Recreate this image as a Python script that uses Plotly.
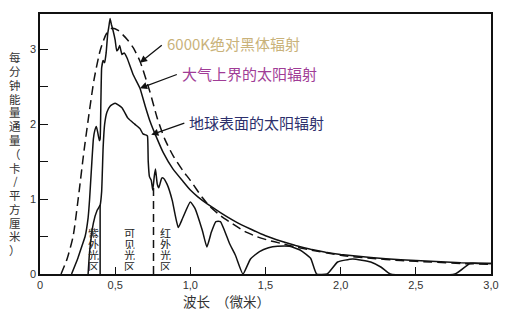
import plotly.graph_objects as go

# Wavelength grid (micrometres) and spectral energy flux for each curve
bb_x = [0.14, 0.18, 0.22, 0.26, 0.29, 0.32, 0.36, 0.40, 0.44, 0.48, 0.52, 0.58, 0.62,
        0.665, 0.73, 0.78, 0.83, 0.885, 0.95, 1.0, 1.08, 1.13, 1.2, 1.28, 1.36, 1.44,
        1.52, 1.6, 1.7, 1.8, 2.0, 2.2, 2.4, 2.6, 2.8, 3.0]
bb_y = [0.0, 0.2, 0.5, 1.1, 1.6, 2.05, 2.6, 2.98, 3.2, 3.28, 3.25, 3.13, 3.02,
        2.84, 2.44, 2.08, 1.8, 1.58, 1.38, 1.25, 1.02, 0.9, 0.78, 0.67, 0.57, 0.5,
        0.45, 0.41, 0.36, 0.32, 0.25, 0.21, 0.18, 0.16, 0.14, 0.13]

toa_x = [0.21, 0.25, 0.28, 0.30, 0.32, 0.33, 0.345, 0.355, 0.365, 0.375, 0.385, 0.395,
         0.40, 0.405, 0.41, 0.42, 0.43, 0.44, 0.45, 0.458, 0.466, 0.475, 0.486, 0.50,
         0.51, 0.52, 0.53, 0.545, 0.56, 0.58, 0.62, 0.665, 0.70, 0.73, 0.78, 0.82,
         0.885, 0.95, 1.0, 1.05, 1.11, 1.2, 1.3, 1.4, 1.5, 1.6, 1.7, 1.8, 1.9, 2.0,
         2.2, 2.4, 2.6, 2.8, 3.0]
toa_y = [0.0, 0.2, 0.38, 0.5, 0.75, 1.0, 1.5, 1.8, 1.92, 1.97, 1.88, 1.78,
         1.8, 2.3, 2.75, 2.85, 2.82, 2.95, 3.2, 3.3, 3.41, 3.33, 3.25, 3.12,
         2.98, 3.0, 3.05, 2.93, 2.95, 2.88, 2.66, 2.48, 2.24, 2.05, 1.8, 1.62,
         1.4, 1.24, 1.12, 1.03, 0.94, 0.82, 0.7, 0.6, 0.51, 0.44, 0.38, 0.33, 0.29, 0.26,
         0.22, 0.19, 0.17, 0.15, 0.14]

sfc_x = [0.32, 0.33, 0.355, 0.38, 0.40, 0.41, 0.42, 0.43, 0.445, 0.466, 0.50, 0.545,
         0.585, 0.63, 0.665, 0.685, 0.71, 0.715, 0.72, 0.728, 0.74, 0.75, 0.76, 0.768,
         0.78, 0.79, 0.81, 0.82, 0.845, 0.88, 0.90, 0.92, 0.95, 1.0, 1.03, 1.08, 1.11,
         1.14, 1.17, 1.2, 1.26, 1.30, 1.35, 1.40, 1.46, 1.52, 1.58, 1.66, 1.73, 1.8,
         1.84, 1.91, 1.98, 2.08, 2.2, 2.27, 2.33, 2.76, 2.86, 2.93, 3.0]
sfc_y = [0.0, 0.3, 0.68, 0.85, 0.92, 1.1, 1.69, 2.0, 2.16, 2.24, 2.28, 2.22,
         2.08, 2.0, 1.94, 1.87, 1.85, 1.84, 1.5, 1.3, 1.25, 1.12, 1.3, 1.4,
         1.2, 1.15, 1.28, 1.28, 1.2, 0.98, 0.78, 0.62, 0.75, 0.96, 0.88, 0.58, 0.36,
         0.56, 0.7, 0.7, 0.41, 0.25, 0.0, 0.2, 0.3, 0.35, 0.37, 0.37, 0.32, 0.21,
         0.0, 0.0, 0.16, 0.2, 0.16, 0.09, 0.0, 0.0, 0.14, 0.14, 0.14]

# Spectral region boundaries: wavelength, height, dash style
bound_x = [0.40, 0.755]
bound_top = [0.92, 1.15]
bound_dash = ["solid", "8px,5px"]

x_ticks = [0, 0.5, 1.0, 1.5, 2.0, 2.5, 3.0]
x_ticktext = ["0", "0,5", "1,0", "1,5", "2,0", "2,5", "3,0"]
y_ticks = [0, 0.5, 1, 1.5, 2, 2.5, 3]
y_ticktext = ["0", "", "1", "", "2", "", "3"]

region_names = ["紫外光区", "可见光区", "红外光区"]
region_x = [0.355, 0.595, 0.835]

y_title = "每分钟能量通量（卡/平方厘米）"
x_title = "波长  （微米）"

curve_labels = ["6000K绝对黑体辐射", "大气上界的太阳辐射", "地球表面的太阳辐射"]
label_colors = ["#c9b27a", "#a03c96", "#2c2f6c"]
label_pos = [(0.83, 3.07), (0.93, 2.67), (0.98, 2.02)]
arrow_tip = [(0.665, 2.82), (0.665, 2.48), (0.74, 1.86)]

W, H = 522, 325
L, R, T, B = 40, 31, 12, 51
YMAX = 3.47

fig = go.Figure()
fig.add_trace(go.Scatter(x=bb_x, y=bb_y, mode="lines",
                         line=dict(color="#111", width=1.5, dash="9px,5px", shape="spline", smoothing=0.6)))
fig.add_trace(go.Scatter(x=toa_x, y=toa_y, mode="lines",
                         line=dict(color="#111", width=1.5, shape="spline", smoothing=0.3)))
fig.add_trace(go.Scatter(x=sfc_x, y=sfc_y, mode="lines",
                         line=dict(color="#111", width=1.5, shape="spline", smoothing=0.45)))
for bx, bt, bd in zip(bound_x, bound_top, bound_dash):
    fig.add_trace(go.Scatter(x=[bx, bx], y=[0, bt], mode="lines",
                             line=dict(color="#111", width=1.5, dash=bd)))

cjk = "Noto Sans CJK SC"
plot_w = W - L - R
plot_h = H - T - B
ann = []

# vertical axis title, one upright character per row
for i, ch in enumerate(y_title):
    py = 55 + i * 13.9
    ann.append(dict(xref="paper", yref="paper", x=(15 - L) / plot_w, y=(H - B - py) / plot_h,
                    text=ch, showarrow=False, font=dict(family=cjk, size=11.5, color="#333"),
                    xanchor="center", yanchor="middle", height=13))

# region names, stacked vertically
for name, rx in zip(region_names, region_x):
    for i, ch in enumerate(name):
        py = 232 + i * 11.3
        ann.append(dict(xref="x", yref="paper", x=rx, y=(H - B - py) / plot_h, text=ch,
                        showarrow=False, font=dict(family=cjk, size=11, color="#222"),
                        xanchor="center", yanchor="middle", height=11))

# curve names with pointer arrows
for txt, col, (lx, ly), (tx, ty) in zip(curve_labels, label_colors, label_pos, arrow_tip):
    ann.append(dict(x=lx, y=ly, text=txt, showarrow=False, xanchor="left", yanchor="middle",
                    font=dict(family=cjk, size=15, color=col)))
    ann.append(dict(x=tx, y=ty, ax=lx - 0.01, ay=ly, axref="x", ayref="y", text="",
                    showarrow=True, arrowhead=2, arrowsize=1.1, arrowwidth=1.3, arrowcolor="#111"))

ann.append(dict(xref="paper", yref="paper", x=(226 - L) / plot_w, y=(H - B - 301) / plot_h,
                text=x_title, showarrow=False, font=dict(family=cjk, size=13.5, color="#333"),
                xanchor="center", yanchor="middle"))

fig.update_layout(
    width=W, height=H, margin=dict(l=L, r=R, t=T, b=B),
    plot_bgcolor="white", paper_bgcolor="white", showlegend=False,
    annotations=ann,
    xaxis=dict(range=[0, 3.0], tickvals=x_ticks, ticktext=x_ticktext, ticks="inside", ticklen=7,
               tickwidth=1.3, tickcolor="#111", showline=True, linecolor="#111", linewidth=1.5,
               mirror=True, showgrid=False, zeroline=False,
               tickfont=dict(family="Liberation Sans", size=11, color="#333")),
    yaxis=dict(range=[0, YMAX], tickvals=y_ticks, ticktext=y_ticktext, ticks="inside", ticklen=8,
               tickwidth=1.3, tickcolor="#111", showline=True, linecolor="#111", linewidth=1.5,
               mirror=True, showgrid=False, zeroline=False,
               tickfont=dict(family="Liberation Sans", size=11, color="#333")),
)

fig.write_html("out.html")
